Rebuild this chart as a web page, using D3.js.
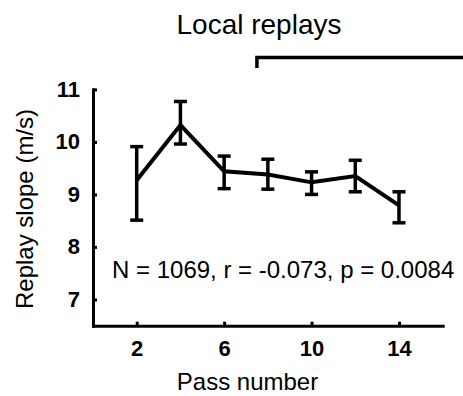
<!DOCTYPE html>
<html>
<head>
<meta charset="utf-8">
<script src="https://cdn.jsdelivr.net/npm/d3@7"></script>
<style>
  body { margin: 0; background: #fff; }
  svg { display: block; font-family: "Liberation Sans", Arial, sans-serif; }
  .axis text { font-weight: bold; font-size: 22px; fill: #000; }
  .axis path, .axis line { stroke: #000; stroke-width: 3; }
</style>
</head>
<body>
<div class="canvas"></div>
<script>
var passNumbers = [2, 4, 6, 8, 10, 12, 14];
var slopeMean  = [9.27, 10.32, 9.44, 9.38, 9.23, 9.35, 8.79];
var slopeLow   = [8.51, 9.96, 9.11, 9.10, 9.00, 9.05, 8.46];
var slopeHigh  = [9.91, 10.77, 9.73, 9.67, 9.43, 9.65, 9.05];
var xTicks = [2, 6, 10, 14];
var yTicks = [7, 8, 9, 10, 11];
var statsText = "N = 1069, r = -0.073, p = 0.0084";
var localStart = 7.5;

var width = 463,
    height = 396;

var svg = d3.select(".canvas").append("svg")
    .attr("width", width)
    .attr("height", height);

var x = d3.scaleLinear().domain([0, 16]).range([93, 442.7]);
var y = d3.scaleLinear().domain([6.5, 11]).range([325.7, 89.4]);

var rows = passNumbers.map(function (p, i) {
    return {pass: p, mean: slopeMean[i], lo: slopeLow[i], hi: slopeHigh[i]};
});

// axes, ticks pointing inward
svg.append("g")
    .attr("class", "axis")
    .attr("transform", "translate(0," + y(6.5) + ")")
    .call(d3.axisBottom(x).tickValues(xTicks).tickFormat(d3.format("d"))
        .tickSizeInner(-4).tickSizeOuter(0).tickPadding(15));

svg.append("g")
    .attr("class", "axis")
    .attr("transform", "translate(" + x(0) + ",0)")
    .call(d3.axisLeft(y).tickValues(yTicks).tickFormat(d3.format("d"))
        .tickSizeInner(-4).tickSizeOuter(0).tickPadding(13));

svg.selectAll(".axis path").attr("stroke-linecap", "square");

// mean line
svg.append("path")
    .datum(rows)
    .attr("fill", "none")
    .attr("stroke", "#000")
    .attr("stroke-width", 4)
    .attr("d", d3.line().x(function (d) { return x(d.pass); }).y(function (d) { return y(d.mean); }));

// error bars
var bars = svg.append("g").selectAll("g").data(rows).enter().append("g");
bars.append("line")
    .attr("x1", function (d) { return x(d.pass); })
    .attr("x2", function (d) { return x(d.pass); })
    .attr("y1", function (d) { return y(d.lo); })
    .attr("y2", function (d) { return y(d.hi); })
    .attr("stroke", "#000")
    .attr("stroke-width", 3.5);
["lo", "hi"].forEach(function (k) {
    bars.append("line")
        .attr("x1", function (d) { return x(d.pass) - 6.5; })
        .attr("x2", function (d) { return x(d.pass) + 6.5; })
        .attr("y1", function (d) { return y(d[k]); })
        .attr("y2", function (d) { return y(d[k]); })
        .attr("stroke", "#000")
        .attr("stroke-width", 3.5);
});

// stats annotation
svg.append("text")
    .attr("x", 112)
    .attr("y", 278)
    .style("font-size", "24px")
    .text(statsText);

// local replays bracket + title
svg.append("path")
    .attr("fill", "none")
    .attr("stroke", "#000")
    .attr("stroke-width", 3.5)
    .attr("d", "M" + x(localStart) + ",68V57.5H" + width);

svg.append("text")
    .attr("x", 259)
    .attr("y", 34)
    .attr("text-anchor", "middle")
    .style("font-size", "28px")
    .text("Local replays");

// axis titles
svg.append("text")
    .attr("x", 247.5)
    .attr("y", 390)
    .attr("text-anchor", "middle")
    .style("font-size", "24px")
    .text("Pass number");

svg.append("text")
    .attr("transform", "translate(33,209) rotate(-90)")
    .attr("text-anchor", "middle")
    .style("font-size", "24px")
    .text("Replay slope (m/s)");
</script>
</body>
</html>
